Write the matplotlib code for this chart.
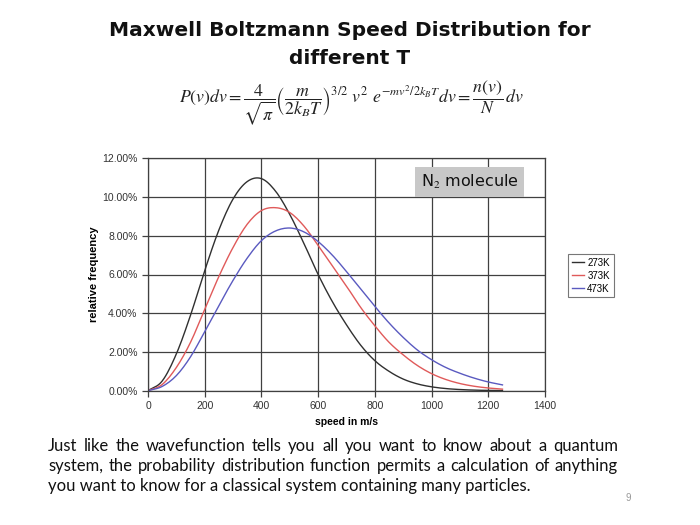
import numpy as np
import matplotlib
matplotlib.use("Agg")
import matplotlib.pyplot as plt
from matplotlib.ticker import FuncFormatter, MultipleLocator

# speed bins (m/s) and relative frequency (%)
speed = [0, 50, 100, 150, 200, 250, 300, 350, 400, 450, 500, 550, 600,
         650, 700, 750, 800, 850, 900, 950, 1000, 1050, 1100, 1150, 1200, 1250]
freq_273 = [0, 0.5, 1.9, 3.9, 6.2, 8.3, 9.9, 10.8, 10.95, 10.3, 9.1, 7.6, 6.0,
            4.6, 3.4, 2.35, 1.55, 1.0, 0.6, 0.35, 0.2, 0.11, 0.06, 0.03, 0.015, 0.01]
freq_373 = [0, 0.32, 1.2, 2.5, 4.2, 5.9, 7.4, 8.6, 9.3, 9.45, 9.2, 8.5, 7.5,
            6.45, 5.4, 4.3, 3.35, 2.5, 1.85, 1.3, 0.88, 0.58, 0.37, 0.23, 0.14, 0.08]
freq_473 = [0, 0.22, 0.78, 1.75, 3.05, 4.4, 5.7, 6.85, 7.75, 8.25, 8.4, 8.2, 7.7,
            7.0, 6.15, 5.25, 4.35, 3.5, 2.75, 2.1, 1.6, 1.2, 0.9, 0.65, 0.45, 0.3]
series_labels = ["273K", "373K", "473K"]

title_lines = ["Maxwell Boltzmann Speed Distribution for", "different T"]
body_lines = [
    "Just like the wavefunction  tells you all you want to know about a quantum",
    "system, the probability distribution function permits a calculation of anything",
    "you want to know for a classical system containing many particles.",
]

W, H = 700, 525
fig = plt.figure(figsize=(7, 5.25), dpi=100)
fig.patch.set_facecolor("white")
plt.rcParams["mathtext.fontset"] = "stix"


def fx(px):
    return px / W


def fy(py):
    return 1 - py / H


def smooth_line(x, y, steps=8):
    # Catmull-Rom drawing through the points, like Excel's "smoothed line"
    x = np.asarray(x, float)
    y = np.asarray(y, float)
    px = np.concatenate([[2 * x[0] - x[1]], x, [2 * x[-1] - x[-2]]])
    py = np.concatenate([[2 * y[0] - y[1]], y, [2 * y[-1] - y[-2]]])
    t = np.linspace(0, 1, steps, endpoint=False)
    xs, ys = [], []
    for i in range(1, len(px) - 2):
        for arr, out in ((px, xs), (py, ys)):
            p0, p1, p2, p3 = arr[i - 1], arr[i], arr[i + 1], arr[i + 2]
            out.extend(0.5 * (2 * p1 + (-p0 + p2) * t
                              + (2 * p0 - 5 * p1 + 4 * p2 - p3) * t ** 2
                              + (-p0 + 3 * p1 - 3 * p2 + p3) * t ** 3))
    xs.append(x[-1])
    ys.append(y[-1])
    return np.array(xs), np.array(ys)


# title
for i, line in enumerate(title_lines):
    fig.text(0.5, fy(30 + 28 * i), line, ha="center", va="center",
             fontsize=14.5, fontweight="bold", family="DejaVu Sans",
             color="#111111")

# formula
formula = (r"$P(v)dv=\dfrac{4}{\sqrt{\pi}}\left(\dfrac{m}{2k_BT}\right)^{3/2}"
           r"\ v^2\ e^{-mv^2/2k_BT}dv=\dfrac{n(v)}{N}\,dv$")
fig.text(fx(351), fy(103), formula, ha="center", va="center", fontsize=12.8,
         color="#222222")

# chart
ax = fig.add_axes([fx(148), fy(390.7), fx(545 - 148), (390.7 - 158.3) / H])
colors = ["#303030", "#e05a5a", "#5a5ac0"]
for vals, lab, c in zip([freq_273, freq_373, freq_473], series_labels, colors):
    sx, sy = smooth_line(speed, vals)
    ax.plot(sx, np.clip(sy, 0, None), color=c, lw=1.0, label=lab)

ax.set_xlim(0, 1400)
ax.set_ylim(0, 12)
ax.xaxis.set_major_locator(MultipleLocator(200))
ax.yaxis.set_major_locator(MultipleLocator(2))
ax.yaxis.set_major_formatter(FuncFormatter(lambda v, p: f"{v:.2f}%"))
ax.grid(True, color="#404040", lw=0.9)
ax.set_axisbelow(True)
for s in ax.spines.values():
    s.set_color("#404040")
    s.set_linewidth(0.9)
ax.tick_params(direction="out", length=4, width=0.9, color="#404040",
               labelsize=7.5, labelcolor="#333333")
for t in ax.get_xticklabels() + ax.get_yticklabels():
    t.set_family("Liberation Sans")
ax.set_xlabel("speed in m/s", fontsize=7.5, fontweight="bold",
              family="Liberation Sans", labelpad=4)
ax.set_ylabel("relative frequency", fontsize=8, fontweight="bold",
              family="Liberation Sans", labelpad=2)

fig.text(fx(469.5), fy(182), r"N$_2$ molecule", ha="center", va="center",
         fontsize=11.5, family="DejaVu Sans", color="#111111",
         bbox=dict(boxstyle="square,pad=0.35", fc="#c8c8c8", ec="none"))

leg = ax.legend(loc="upper left", bbox_to_anchor=(fx(563), fy(249)),
                bbox_transform=fig.transFigure, frameon=True,
                fancybox=False, edgecolor="#555555", handlelength=1.3,
                handletextpad=0.3, labelspacing=0.3, borderpad=0.4,
                prop={"family": "Liberation Sans", "size": 7})
leg.get_frame().set_linewidth(0.8)

# body text, first two lines justified
renderer = fig.canvas.get_renderer()
x_left, x_right = 48, 618
baselines = [451, 471, 491]
for i, line in enumerate(body_lines):
    if i < 2:
        words = line.split()
        texts = [fig.text(0, fy(baselines[i]), w, fontsize=12, family="Lato",
                          va="baseline", color="#111111") for w in words]
        widths = [t.get_window_extent(renderer).width for t in texts]
        gap = (x_right - x_left - sum(widths)) / (len(words) - 1)
        x = x_left
        for t, w in zip(texts, widths):
            t.set_x(fx(x))
            x += w + gap
    else:
        fig.text(fx(x_left), fy(baselines[i]), line, fontsize=12, family="Lato",
                 va="baseline", color="#111111")

fig.text(fx(626), fy(501), "9", fontsize=7, color="#999999", va="baseline",
         family="Liberation Sans")

fig.savefig("out.png", dpi=100)
